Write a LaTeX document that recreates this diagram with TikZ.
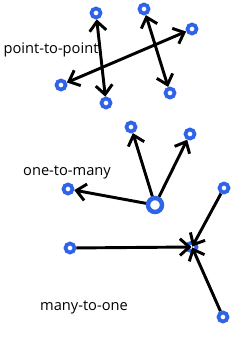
\documentclass[tikz,border=0pt]{standalone}
\usepackage{fontspec}
\setmainfont{Open Sans}
\usepackage{tikz}
\usetikzlibrary{arrows.meta}
\definecolor{ringblue}{HTML}{2F63E8}

\begin{document}
\begin{tikzpicture}[x=0.03cm,y=-0.03cm,
  pt/.style={circle,draw=ringblue,fill=white,line width=3.2pt,minimum size=0.27cm,inner sep=0pt},
  hub/.style={pt,line width=3.8pt,minimum size=0.42cm},
  link/.style={line width=2.5pt,{Straight Barb[length=2.8mm,width=5mm]}-{Straight Barb[length=2.8mm,width=5mm]}},
  onearrow/.style={line width=2.5pt,-{Straight Barb[length=2.8mm,width=5mm]}},
  lbl/.style={font=\fontsize{12.5}{15}\selectfont}]
\useasboundingbox (0,0) rectangle (250,346);
% point-to-point
\node[pt] (a) at (96,13) {};
\node[pt] (b) at (106,103) {};
\node[pt] (c) at (144,9) {};
\node[pt] (d) at (170,93) {};
\node[pt] (e) at (192,29) {};
\node[pt] (f) at (61,85) {};
\draw[link] (a) -- (b);
\draw[link] (c) -- (d);
\draw[link] (e) -- (f);
\node[lbl] (p2p) at (51,50) {point-to-point};
% one-to-many
\node[hub] (g) at (155,205) {};
\node[pt] (h) at (131,127) {};
\node[pt] (i) at (190,134) {};
\node[pt] (j) at (68,189) {};
\draw[onearrow] (g) -- (h);
\draw[onearrow] (g) -- (i);
\draw[onearrow] (g) -- (j);
\node[lbl] (o2m) at (67,172) {one-to-many};
% many-to-one
\node[pt] (k) at (192,247) {};
\node[pt] (l) at (224,188) {};
\node[pt] (m) at (70,248) {};
\node[pt] (n) at (223,317) {};
\draw[onearrow,shorten >=-5pt] (l) -- (k);
\draw[onearrow,shorten >=-5pt] (m) -- (k);
\draw[onearrow,shorten >=-5pt] (n) -- (k);
\node[lbl] (m2o) at (84,307) {many-to-one};
\end{tikzpicture}
\end{document}
